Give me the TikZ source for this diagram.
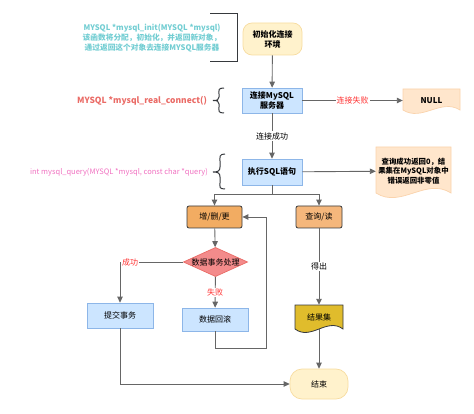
\documentclass[tikz,border=0pt]{standalone}
\usepackage{fontspec}
\setmainfont{Noto Sans CJK SC}
\usetikzlibrary{arrows.meta,shapes.geometric}

\definecolor{linegray}{HTML}{666666}
\definecolor{darkline}{HTML}{36393D}
\definecolor{procfill}{HTML}{CCE5FF}
\definecolor{procline}{HTML}{8DB6E8}
\definecolor{termfill}{HTML}{FFF2CC}
\definecolor{termline}{HTML}{F7DCA0}
\definecolor{notefill}{HTML}{FFE6CC}
\definecolor{noteline}{HTML}{FAD3AC}
\definecolor{cudfill}{HTML}{F2AC62}
\definecolor{qryfill}{HTML}{F5B77C}
\definecolor{decfill}{HTML}{F38B8B}
\definecolor{decline}{HTML}{EA6B66}
\definecolor{resfill}{HTML}{E0BC2C}
\definecolor{cyantext}{HTML}{72CDD2}
\definecolor{redtext}{HTML}{EA6B66}
\definecolor{pinktext}{HTML}{F070C0}
\definecolor{labelred}{HTML}{FF3333}

\begin{document}
	\begin{tikzpicture}[x=1pt,y=-1pt,
		font=\fontsize{8}{10}\selectfont,
		every node/.style={inner sep=0pt, align=center},
		flowline/.style={draw=linegray, line width=0.9pt, -{Triangle[length=6pt,width=5.5pt]}},
		process/.style={draw=procline, fill=procfill, line width=0.7pt},
		terminal/.style={draw=termline, fill=termfill, line width=0.7pt},
		action/.style={draw=darkline, line width=0.8pt, rounded corners=2pt},
		flowlabel/.style={fill=white, inner sep=1pt},
		bracketline/.style={draw=darkline, line width=1pt}]
		
		\useasboundingbox (0,0) rectangle (474,414);
		
		% Dokument-Formen (welliger Rand)
		\filldraw[draw=noteline, fill=notefill, line width=0.7pt]
			(403,89) -- (460,89) -- (460,110) .. controls (441,98) and (422,122) .. (403,110) -- cycle;
		\filldraw[draw=noteline, fill=notefill, line width=0.7pt]
			(376,147) -- (451,147) -- (451,193) .. controls (426,177) and (401,209) .. (376,193) -- cycle;
		\filldraw[draw=darkline, fill=resfill, line width=0.8pt]
			(295,305) -- (343,305) -- (343,329) .. controls (327,317) and (311,341) .. (295,329) -- cycle;
		
		% Hauptablauf
		\node[terminal, rounded corners=9pt, minimum width=59pt, minimum height=32pt] (init) at (272.5,39) {\bfseries 初始化连接\\\bfseries 环境};
		\node[process, minimum width=60pt, minimum height=25pt] (conn) at (272,100.5) {\bfseries 连接MySQL\\\bfseries 服务器};
		\node[minimum width=57pt, minimum height=22pt] (null) at (431.5,100.5) {\bfseries NULL};
		\node[process, minimum width=60pt, minimum height=26pt] (sql) at (272,172) {\bfseries 执行SQL语句};
		\node[minimum width=75pt, minimum height=46pt, font=\fontsize{7.4}{9.5}\selectfont] (result0) at (413.5,171) {\bfseries 查询成功返回0，结\\\bfseries 果集在MySQL对象中\\\bfseries 错误返回非零值};
		
		% Verzweigung
		\node[action, fill=cudfill, minimum width=55pt, minimum height=22pt] (cud) at (214.5,217) {增/删/更};
		\node[action, fill=qryfill, minimum width=46pt, minimum height=22pt] (qry) at (319,217) {查询/读};
		\node[diamond, aspect=2.2, draw=decline, fill=decfill, line width=0.7pt] (txn) at (215.5,262) {数据事务处理};
		\node[process, minimum width=66pt, minimum height=25pt] (commit) at (120,315.5) {提交事务};
		\node[process, minimum width=66pt, minimum height=23pt] (rollback) at (215,319.5) {数据回滚};
		\node[minimum width=48pt, minimum height=24pt] (resset) at (319,317) {结果集};
		\node[terminal, rounded corners=12pt, minimum width=58pt, minimum height=30pt] (finish) at (319,384) {结束};
		
		% Hilfspunkte
		\coordinate (split) at (272,194);
		\coordinate (loop) at (266,348);
		
		% Anmerkungen links
		\node[text=cyantext, font=\fontsize{7.7}{10}\selectfont] (initnote) at (152,38) {\bfseries MYSQL *mysql\_init(MYSQL *mysql)\\\bfseries 该函数将分配，初始化，并返回新对象，\\\bfseries 通过返回这个对象去连接MYSQL服务器};
		\node[text=redtext, font=\fontsize{8.5}{10}\selectfont\bfseries] (connnote) at (142,101) {MYSQL *mysql\_real\_connect()};
		\node[text=pinktext, font=\fontsize{7.5}{9}\selectfont] (querynote) at (119,172) {int mysql\_query(MYSQL *mysql, const char *query)};
		
		% Klammern
		\draw[bracketline] (210,14) -- (237,14) -- (237,62) -- (210,62);
		\draw[bracketline] (224,88) .. controls (218,88) and (219,90) .. (219,94) -- (219,97)
			.. controls (219,100) and (217,100.5) .. (213,100.5)
			.. controls (217,100.5) and (219,101) .. (219,104) -- (219,107)
			.. controls (219,111) and (218,113) .. (224,113);
		\draw[bracketline] (225,154) .. controls (219,154) and (220,157) .. (220,161) -- (220,167)
			.. controls (220,171) and (218,172) .. (213,172)
			.. controls (218,172) and (220,173) .. (220,177) -- (220,183)
			.. controls (220,187) and (219,189) .. (225,189);
		
		% Verbindungen
		\draw[flowline] (init) -- (conn);
		\draw[flowline] (conn) -- node[flowlabel] {连接成功} (sql);
		\draw[flowline] (conn) -- node[flowlabel, text=labelred] {连接失败} (null);
		\draw[flowline] (sql) -- (result0);
		\draw[draw=linegray, line width=0.9pt] (sql) -- (split);
		\draw[flowline] (split) -| (cud);
		\draw[flowline] (split) -| (qry);
		\draw[flowline] (cud) -- (txn);
		\draw[flowline] (txn.west) -| node[flowlabel, text=labelred, pos=0.42] {成功} (commit);
		\draw[flowline] (txn) -- node[flowlabel, text=labelred] {失败} (rollback);
		\draw[flowline] (rollback.south) |- (loop) |- (cud.east);
		\draw[flowline] (qry) -- node[flowlabel] {得出} (resset);
		\draw[flowline] (resset) -- (finish);
		\draw[flowline] (commit.south) |- (finish.west);
		
	\end{tikzpicture}
\end{document}
